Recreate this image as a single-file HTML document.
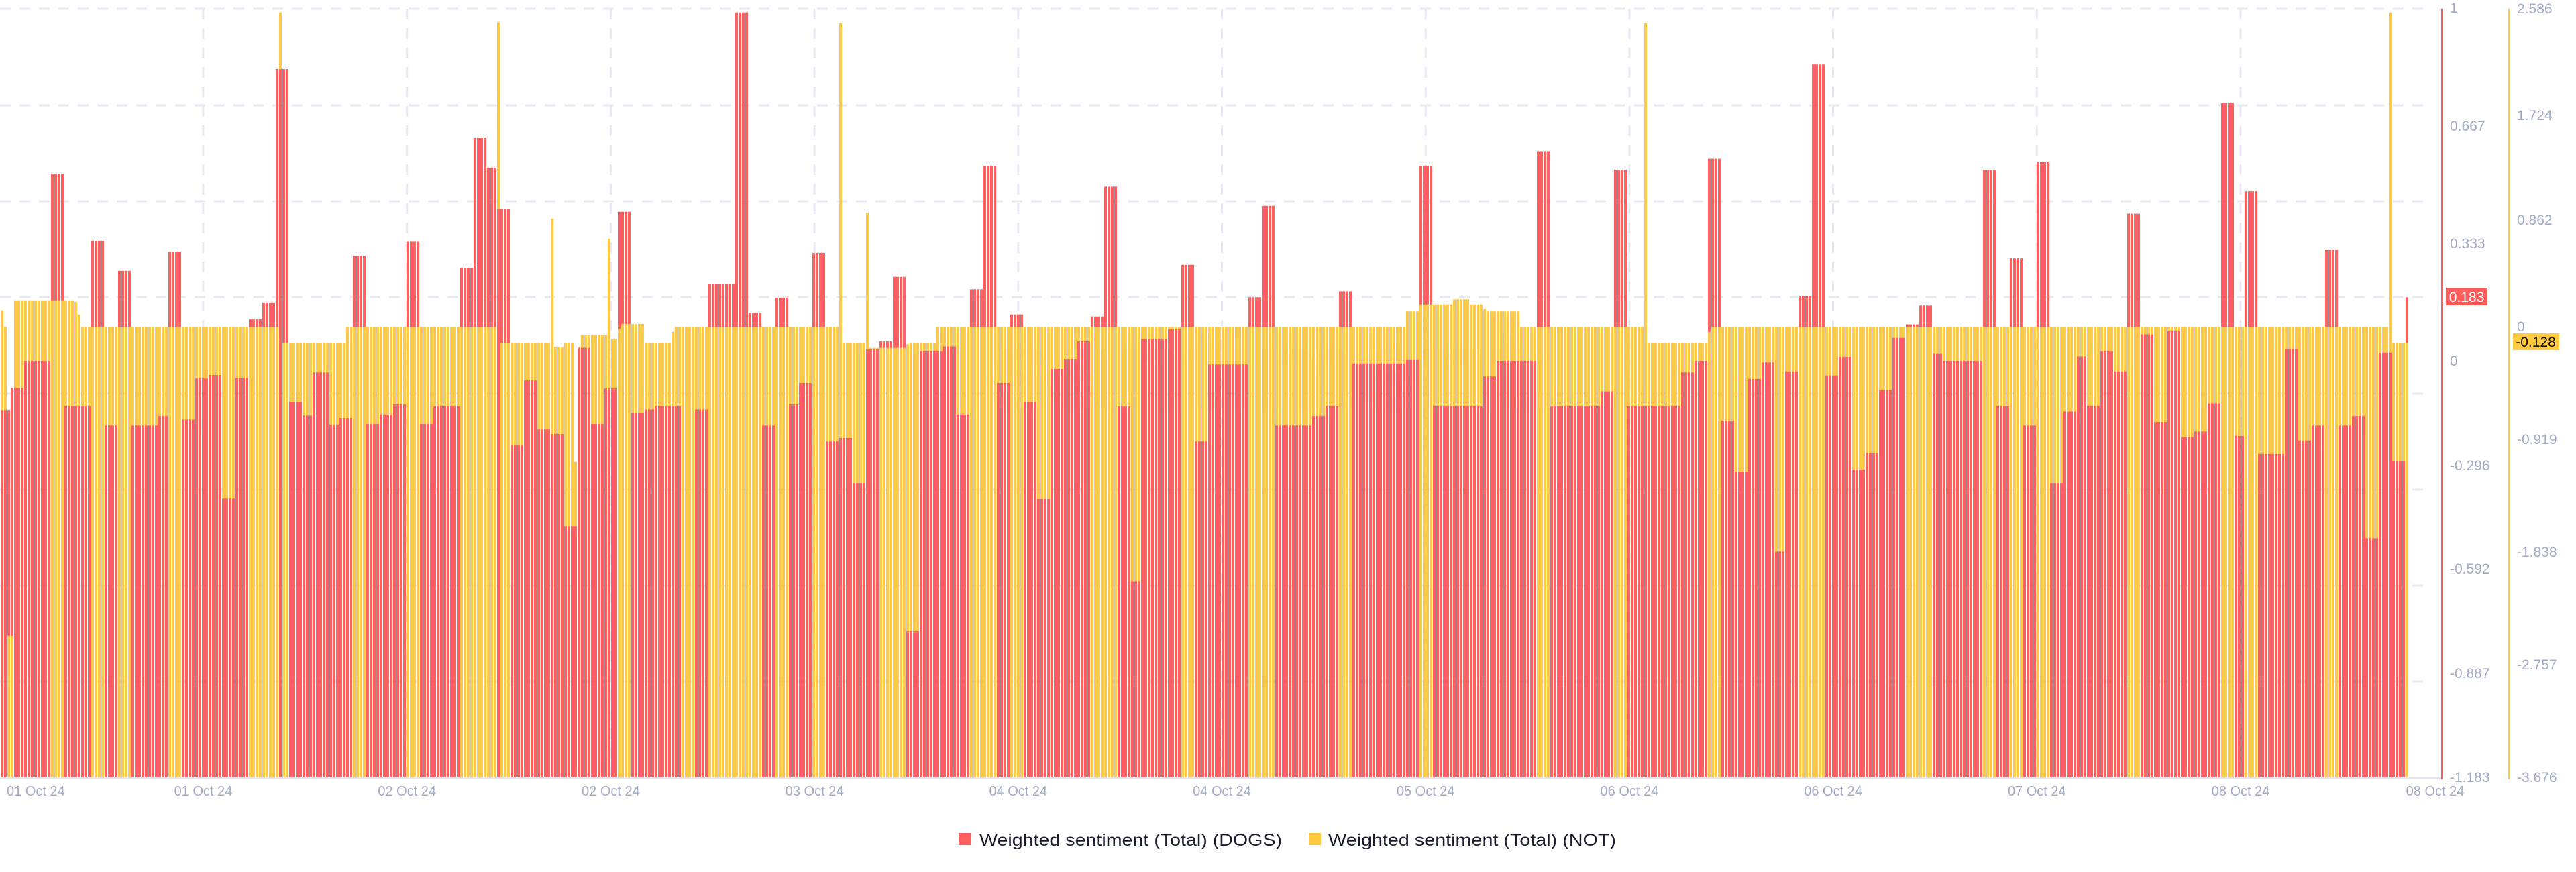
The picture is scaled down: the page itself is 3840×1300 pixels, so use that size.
<!DOCTYPE html>
<html><head><meta charset="utf-8">
<style>
html,body{margin:0;padding:0;background:#fff;}
svg{display:block;}
text{font-family:"Liberation Sans",sans-serif;}
</style></head>
<body>
<svg id="c" width="3840" height="1300" viewBox="0 0 3840 1300" xmlns="http://www.w3.org/2000/svg">
<g id="grid" stroke="#e6e8f2" stroke-width="3" stroke-dasharray="16,13"></g>
<text x="1900" y="610" font-size="170" fill="#e8ebf3" fill-opacity="0.35" text-anchor="middle" font-weight="bold">santiment.</text>
<g id="bars"></g>
<line x1="0" y1="1160" x2="3640" y2="1160" stroke="#e2e6f0" stroke-width="3"/>
<line x1="3640" y1="13" x2="3640" y2="1162" stroke="#ff5b5b" stroke-width="2"/>
<line x1="3740" y1="13" x2="3740" y2="1162" stroke="#ffc940" stroke-width="2"/>
<g id="labels" font-size="21" fill="#a2abc6"></g>
<rect x="3646" y="429" width="62" height="26" fill="#ff5b5b"/>
<text x="3677" y="450" font-size="21" fill="#fff" text-anchor="middle">0.183</text>
<rect x="3746" y="497" width="69" height="25" fill="#ffc940"/>
<text x="3780" y="517" font-size="21" fill="#111" text-anchor="middle">-0.128</text>
<rect x="1429" y="1242" width="19" height="18" fill="#ff5f5f"/>
<text x="1460" y="1261" font-size="25" fill="#1a1c2e" textLength="451" lengthAdjust="spacingAndGlyphs">Weighted sentiment (Total) (DOGS)</text>
<rect x="1951" y="1242" width="18" height="18" fill="#ffc940"/>
<text x="1980" y="1261" font-size="25" fill="#1a1c2e" textLength="429" lengthAdjust="spacingAndGlyphs">Weighted sentiment (Total) (NOT)</text>
</svg>
<script>
var NS="http://www.w3.org/2000/svg";
function el(t,a,p){var e=document.createElementNS(NS,t);for(var k in a)e.setAttribute(k,a[k]);p.appendChild(e);return e;}
var grid=document.getElementById('grid');
var hy=[13,157,300,443,587,730,873,1016];
hy.forEach(function(y){el('line',{x1:0,y1:y,x2:3620,y2:y},grid);});
for(var k=0;k<11;k++){var x=303+303.7*k;el('line',{x1:x,y1:13,x2:x,y2:1159},grid);}
var Z=[
{off:0,red:[0,819,26,775,59,721,124,347,157,812,220,481,253,850,285,541,316,850,381,831,413,503,444,838,476,756,509,749,541,996,573,755,605,638,637,604,668,138,700,803,732,830,764,744,797,848,829,835,861,511,892,847,924,828,957,808,989,483,1021,847,1053,812,1117,535,1149,275,1181,335,1213,418,1245,890,1277,760,1308,858,1340,867,1372,1051,1404,695,1437,847,1468,776,1501,423,1532,825],
 yel:[0,620,8,633,13,653,20,1270,37,600,180,603,187,628,197,653,676,25,683,685,845,653,1213,45,1218,685,1342,437,1346,693,1372,685,1397,923,1405,693,1413,669,1477,477,1484,677,1500,657,1508,647]},
{off:960,red:[0,818,29,812,91,1600,124,818,157,568,220,25,252,625,285,850,316,595,348,808,380,765,412,505,444,882,476,875,508,965,540,698,572,682,604,553,636,1261,668,702,731,692,764,828,796,578,828,331,860,765,892,628,924,803,956,997,988,737,1021,717,1053,682,1085,632,1117,373,1149,812,1181,1161,1213,677,1277,658,1308,529,1340,882,1372,728,1468,594,1500,411,1532,850],
 yel:[0,685,69,663,77,653,476,46,483,685,541,425,547,695,640,688,645,685,709,653]},
{off:1920,red:[0,850,59,831,91,812,124,582,155,726,284,718,316,331,348,812,476,752,508,721,604,302,636,812,764,782,796,339,828,812,956,744,988,721,1021,317,1053,840,1085,942,1117,757,1149,724,1181,1102,1213,742,1245,591,1277,129,1308,750,1340,713,1372,938,1404,905,1436,779,1468,675,1500,648,1532,610],
 yel:[0,653,284,622,316,608,404,598,444,608,476,617,484,622,564,653,869,46,875,685,1021,663,1030,653]},
{off:2880,red:[0,707,29,721,124,340,155,812,188,516,220,850,252,323,285,965,316,822,348,712,380,811,412,702,444,742,476,427,508,668,540,843,572,662,604,873,636,862,668,806,700,206,732,871,764,382,796,907,860,697,892,880,924,850,956,499,988,850,1021,831,1053,1075,1085,705,1117,922,1148,594,1162,1600],
 yel:[0,653,1108,25,1115,685,1162,1600]}
];
function build(key){var s=[];Z.forEach(function(z){var a=z[key];for(var i=0;i<a.length;i+=2){s.push([z.off+a[i]/1.633,a[i+1]/1.34]);}});
 for(var i=0;i<s.length;i++){s[i][2]=(i+1<s.length?s[i+1][0]:3600);}return s;}
var R=build('red'),Y=build('yel');
var N=718;
function sample(s){var v=[];for(var j=0;j<N;j++){var c=5*j+3,y=1600;for(var i=0;i<s.length;i++){if(s[i][0]<=c)y=s[i][1];}v.push(y);}
 s.forEach(function(g){var L=g[2]-g[0];if(L<6&&L>0){var m=(g[0]+g[2])/2;var j=Math.round((m-3)/5);if(j>=0&&j<N)v[j]=g[1];}});return v;}
var rv=sample(R),yv=sample(Y);
var bars=document.getElementById('bars');
var B=1159;
for(var j=0;j<N;j++){var x=5*j+1;var r=rv[j],y=yv[j];
 var items=[];if(r<B)items.push([r,'#ff5f5f']);if(y<B)items.push([y,'#ffc947']);
 items.sort(function(a,b){return a[0]-b[0];});
 items.forEach(function(it){el('rect',{x:x,y:it[0],width:4,height:B-it[0],fill:it[1]},bars);});}
var lab=document.getElementById('labels');
function t(x,y,s,anchor){var e=el('text',{x:x,y:y+7,'text-anchor':anchor||'start'},lab);e.textContent=s;}
[[12,'1'],[188,'0.667'],[363,'0.333'],[538,'0'],[694,'-0.296'],[848,'-0.592'],[1004,'-0.887'],[1159,'-1.183']].forEach(function(a){t(3652,a[0],a[1]);});
[[13,'2.586'],[172,'1.724'],[328,'0.862'],[487,'0'],[655,'-0.919'],[823,'-1.838'],[991,'-2.757'],[1159,'-3.676']].forEach(function(a){t(3752,a[0],a[1]);});
var xl=['01 Oct 24','02 Oct 24','02 Oct 24','03 Oct 24','04 Oct 24','04 Oct 24','05 Oct 24','06 Oct 24','06 Oct 24','07 Oct 24','08 Oct 24'];
function tx(x,s,anchor){var e=el('text',{x:x,y:1186,'text-anchor':anchor,'font-size':20},lab);e.textContent=s;}
tx(10,'01 Oct 24','start');
xl.forEach(function(s,k){tx(303+303.7*k,s,'middle');});
tx(3630,'08 Oct 24','middle');
</script>
</body></html>
